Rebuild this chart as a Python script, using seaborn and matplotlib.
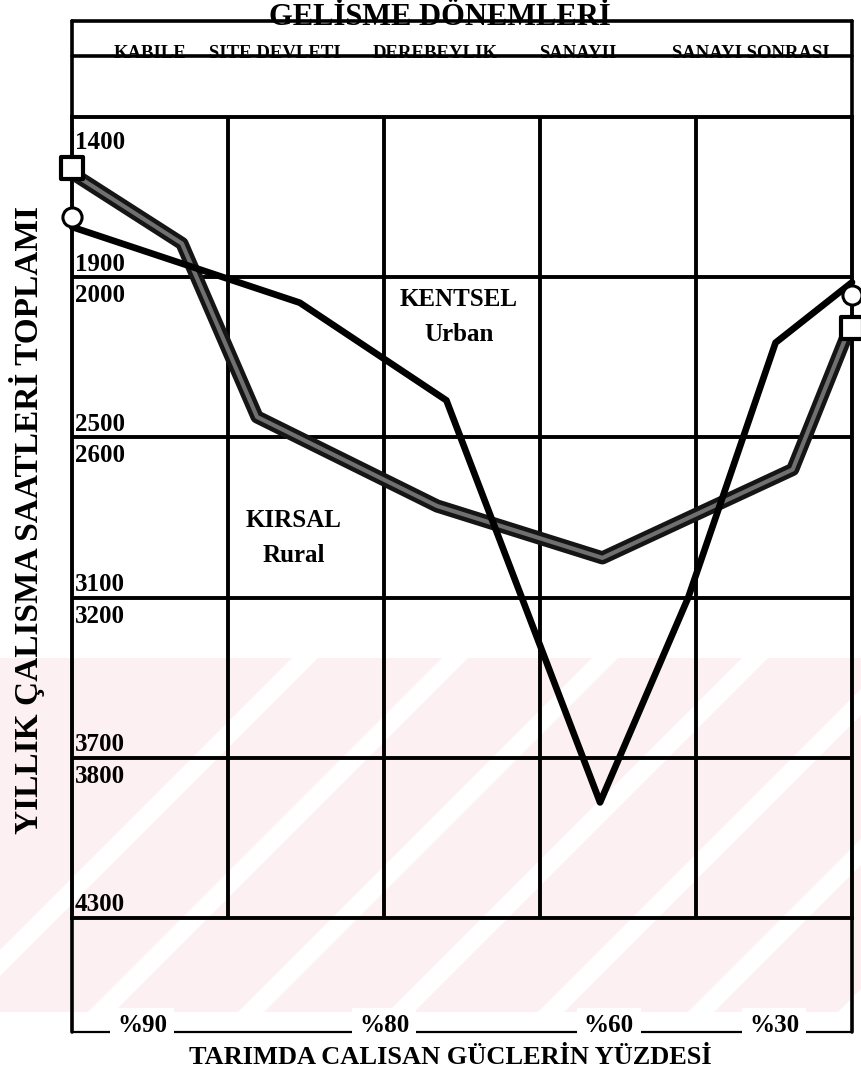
import numpy as np
import pandas as pd
import matplotlib
matplotlib.use("Agg")
import matplotlib.pyplot as plt
import matplotlib.transforms as mtransforms
from matplotlib.lines import Line2D
from matplotlib.patches import Polygon
import seaborn as sns

# ---------------- data ----------------
# x position on the development scale (0 = left edge, 5 = right edge, one unit per period column)
rural_x = [0.0, 0.705, 1.186, 2.34, 3.40, 4.62, 5.0]
rural_hours = [1559, 1759, 2405, 2820, 2955, 2725, 2158]

urban_x = [0.0, 1.46, 2.40, 3.385, 3.95, 4.51, 5.0]
urban_hours = [1712, 2108, 2362, 3972, 3082, 2212, 2055]

periods = ["KABILE", "SITE DEVLETI", "DEREBEYLIK", "SANAYII", "SANAYI SONRASI"]
period_pos = [0.50, 1.30, 2.33, 3.24, 4.35]

hour_labels_top = [1400, 2000, 2600, 3200, 3800]
hour_labels_bottom = [1900, 2500, 3100, 3700, 4300]

pct_labels = ["%90", "%80", "%60", "%30"]
pct_pos = [0.45, 2.0, 3.44, 4.5]

# piecewise axis: each gridded band spans 500 hours, gaps of 100 hours collapse on gridlines
HOUR_KNOTS = [1400, 1900, 2000, 2500, 2600, 3100, 3200, 3700, 3800, 4300]
POS_KNOTS = [0, 1, 1, 2, 2, 3, 3, 4, 4, 5]
GRID_HOURS = [1400, 1950, 2550, 3150, 3750, 4300]


def fwd(h):
    return np.interp(h, HOUR_KNOTS, POS_KNOTS)


def inv(p):
    return np.interp(p, [0, 1, 2, 3, 4, 5], GRID_HOURS)


df = pd.concat([
    pd.DataFrame({"x": rural_x, "hours": rural_hours, "seri": "Kırsal"}),
    pd.DataFrame({"x": urban_x, "hours": urban_hours, "seri": "Kentsel"}),
])

# ---------------- style ----------------
sns.set_theme(style="white")
plt.rcParams["font.family"] = ["Liberation Serif", "DejaVu Serif"]
plt.rcParams["font.weight"] = "bold"
plt.rcParams["text.color"] = "black"

W, H = 862, 1076
fig = plt.figure(figsize=(W / 100, H / 100), dpi=100)
fig.patch.set_facecolor("white")
L, R, T, B = 72, 852, 117, 918


def fx(px):
    return px / W


def fy(py):
    return 1 - py / H


# faint pink watermark stripes in the lower part (scan artefact)
wm_top, wm_bot = 658, 1012
fig.add_artist(Polygon([(0, fy(wm_top)), (1, fy(wm_top)), (1, fy(wm_bot)), (0, fy(wm_bot))],
                       closed=True, transform=fig.transFigure, facecolor="#fdf0f2",
                       edgecolor="none", zorder=-2))
for c in [950, 1100, 1250, 1400, 1550, 1700, 1850]:
    g = 26
    pts = [(c - wm_top, wm_top), (c + g - wm_top, wm_top), (c + g - wm_bot, wm_bot), (c - wm_bot, wm_bot)]
    fig.add_artist(Polygon([(fx(px), fy(py)) for px, py in pts], closed=True,
                           transform=fig.transFigure, facecolor="white", edgecolor="none",
                           zorder=-1))

ax = fig.add_axes([L / W, 1 - B / H, (R - L) / W, (B - T) / H])
ax.set_facecolor("none")

ax.set_yscale("function", functions=(fwd, inv))
ax.set_xlim(0, 5)
ax.set_ylim(4300, 1400)
ax.set_xticks([1, 2, 3, 4])
ax.set_yticks(GRID_HOURS[1:-1])
ax.tick_params(length=0, labelleft=False, labelbottom=False)
ax.grid(True, color="black", lw=2.8)
for s in ax.spines.values():
    s.set_color("black")
    s.set_linewidth(2.8)
ax.set_xlabel("")
ax.set_ylabel("")

# rural: thick dark line with grey speckled core
rural = df[df.seri == "Kırsal"]
urban = df[df.seri == "Kentsel"]
sns.lineplot(data=rural, x="x", y="hours", ax=ax, color="#151515", lw=9.5,
             sort=False, legend=False, zorder=4, clip_on=False)
sns.lineplot(data=rural, x="x", y="hours", ax=ax, color="#707070", lw=3.0,
             sort=False, legend=False, zorder=5, clip_on=False)
sns.lineplot(data=urban, x="x", y="hours", ax=ax, color="black", lw=4.8,
             sort=False, legend=False, zorder=6, clip_on=False)

# end markers
ends_r = rural.iloc[[0, -1]]
ends_u = urban.iloc[[0, -1]]
ax.scatter(ends_r.x, ends_r.hours, marker="s", s=230, facecolor="white",
           edgecolor="black", linewidth=3, zorder=7, clip_on=False)
ax.scatter(ends_u.x, ends_u.hours, marker="o", s=190, facecolor="white",
           edgecolor="black", linewidth=2.2, zorder=7, clip_on=False)

# hour labels inside left edge
btr = mtransforms.blended_transform_factory(ax.transAxes, ax.transData)
for h in hour_labels_top:
    ax.text(0.004, h + (45 if h == 1400 else 22), str(h), transform=btr, va="top", ha="left",
            fontsize=18, fontweight="bold", zorder=8)
for h in hour_labels_bottom:
    ax.text(0.004, h - 5, str(h), transform=btr, va="bottom", ha="left",
            fontsize=18, fontweight="bold", zorder=8)

# region labels
ax.text(2.48, 2070, "KENTSEL", ha="center", va="center", fontsize=18, fontweight="bold")
ax.text(2.48, 2180, "Urban", ha="center", va="center", fontsize=18, fontweight="bold")
ax.text(1.42, 2860, "KIRSAL", ha="center", va="center", fontsize=18, fontweight="bold")
ax.text(1.42, 2970, "Rural", ha="center", va="center", fontsize=18, fontweight="bold")

# ---------------- header box ----------------
lk = dict(color="black", lw=2.6, transform=fig.transFigure)
top_y, per_y, bot_y = 21, 56, 1032
fig.add_artist(Line2D([fx(L), fx(R)], [fy(top_y), fy(top_y)], **lk))
fig.add_artist(Line2D([fx(L), fx(R)], [fy(per_y), fy(per_y)], **lk))
fig.add_artist(Line2D([fx(L), fx(L)], [fy(top_y), fy(T)], **lk))
fig.add_artist(Line2D([fx(R), fx(R)], [fy(top_y), fy(T)], **lk))
fig.text(fx(440), fy(25), "GELİSME DÖNEMLERİ", ha="center", va="baseline",
         fontsize=22, fontweight="bold")

# period labels sitting on the period line
xfig = mtransforms.blended_transform_factory(ax.transData, fig.transFigure)
for p, lab in zip(period_pos, periods):
    fig.text(p, fy(per_y - 3), lab, transform=xfig, ha="center", va="center",
             fontsize=13.5, fontweight="bold")

# ---------------- footer ----------------
fig.add_artist(Line2D([fx(L), fx(L)], [fy(B), fy(bot_y)], **lk))
fig.add_artist(Line2D([fx(R), fx(R)], [fy(B), fy(bot_y)], **lk))
fig.add_artist(Line2D([fx(L), fx(R)], [fy(bot_y), fy(bot_y)], color="black", lw=1.6,
                      transform=fig.transFigure))
for p, lab in zip(pct_pos, pct_labels):
    fig.text(p, fy(bot_y - 6), lab, transform=xfig, ha="center", va="center",
             fontsize=18, fontweight="bold",
             bbox=dict(facecolor="white", edgecolor="none", pad=5))
fig.text(fx(450), fy(1057), "TARIMDA CALISAN GÜCLERİN YÜZDESİ", ha="center", va="center",
         fontsize=19, fontweight="bold")
fig.text(fx(27), fy(520), "YILLIK ÇALISMA SAATLERİ TOPLAMI", ha="center", va="center",
         rotation=90, fontsize=24, fontweight="bold")

fig.savefig("out.png", dpi=100, facecolor="white")
